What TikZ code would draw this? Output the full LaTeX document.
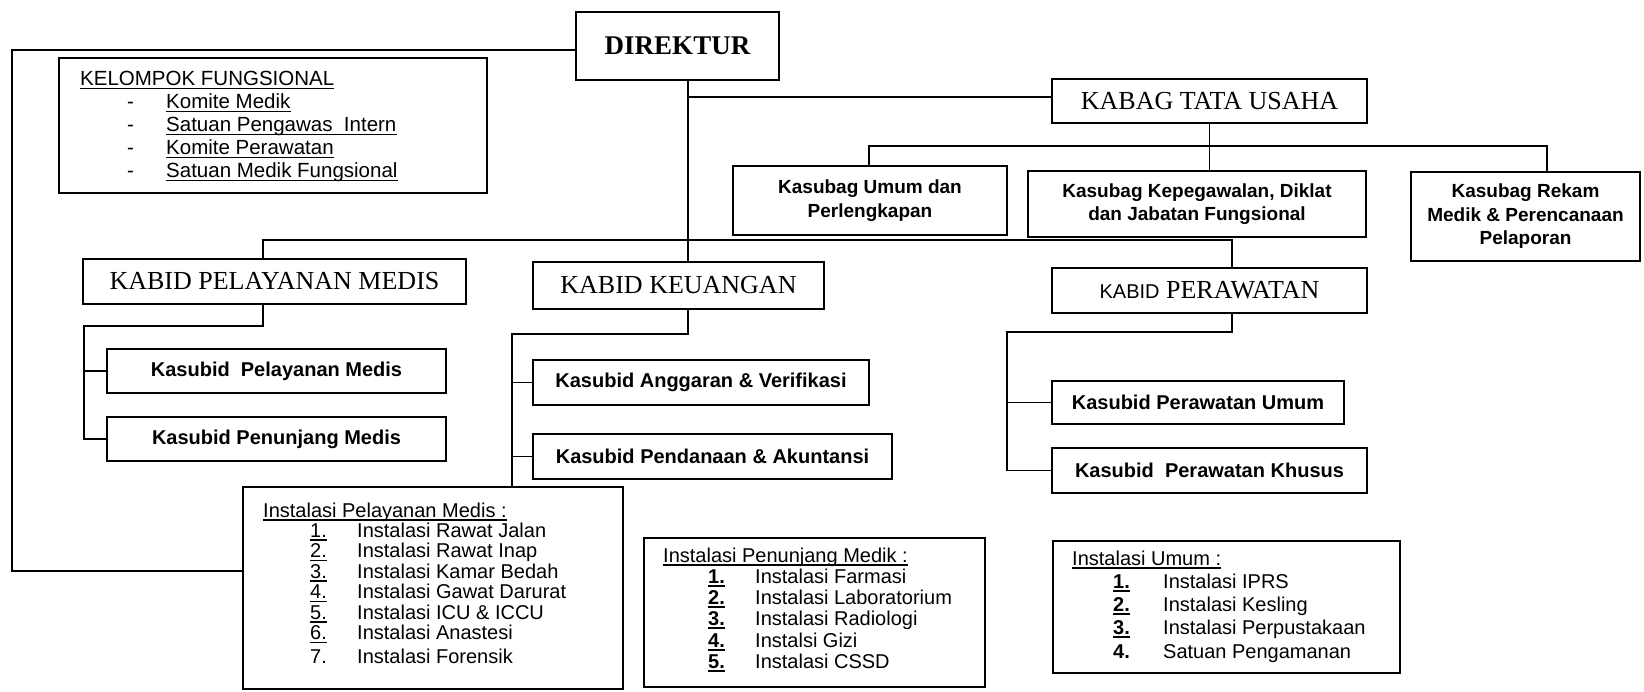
\documentclass[tikz,border=0pt]{standalone}
\usepackage{fontspec}
\setmainfont{Liberation Serif}
\setsansfont{Liberation Sans}
\newcommand\lt[4]{\node[lbl,anchor=base west] (#1) at (#2,#3) {#4};}
\newcommand\ult[4]{\lt{#1}{#2}{#3}{#4}\draw[uline] ([yshift=-3pt]#1.base west) -- ([yshift=-3pt]#1.base east);}
\begin{document}
\begin{tikzpicture}[x=1pt,y=-1pt,
  box/.style={draw, line width=1.6pt, inner sep=0pt, align=center},
  serifbig/.style={font=\fontsize{26}{28}\selectfont},
  sub/.style={font=\sffamily\bfseries\fontsize{20}{24}\selectfont},
  subag/.style={font=\sffamily\bfseries\fontsize{19}{23.5}\selectfont},
  lbl/.style={inner sep=0pt, font=\sffamily\fontsize{20}{24}\selectfont},
  conn/.style={line width=1.4pt},
  uline/.style={line width=1.1pt}]
\useasboundingbox (0,0) rectangle (1644,691);
\fill[white] (0,0) rectangle (1644,691);

% boxes
\node[box, line width=2.4pt, minimum width=203, minimum height=68, font=\bfseries\fontsize{27}{30}\selectfont] (dir) at (677.5,46) {DIREKTUR};
\node[box, minimum width=428, minimum height=135] (kel) at (273,125.5) {};
\node[box, serifbig, minimum width=315, minimum height=44] (kabag) at (1209.5,101) {KABAG TATA USAHA};
\node[box, subag, minimum width=274, minimum height=69] (sumum) at (870,200.5) {Kasubag Umum dan\\Perlengkapan};
\node[box, subag, minimum width=338, minimum height=66] (skep) at (1197,204) {Kasubag Kepegawalan, Diklat\\dan Jabatan Fungsional};
\node[box, subag, minimum width=229, minimum height=89] (srek) at (1525.5,216.5) {Kasubag Rekam\\Medik \& Perencanaan\\Pelaporan};
\node[box, serifbig, minimum width=383, minimum height=45] (pel) at (274.5,281.5) {KABID PELAYANAN MEDIS};
\node[box, serifbig, minimum width=291, minimum height=47] (keu) at (678.5,285.5) {KABID KEUANGAN};
\node[box, serifbig, minimum width=315, minimum height=45] (per) at (1209.5,290.5) {{\sffamily\fontsize{20}{24}\selectfont KABID} PERAWATAN};
\node[box, sub, minimum width=339, minimum height=44] (ksp1) at (276.5,371) {Kasubid~~Pelayanan Medis};
\node[box, sub, minimum width=339, minimum height=44] (ksp2) at (276.5,439) {Kasubid Penunjang Medis};
\node[box, sub, minimum width=336, minimum height=45] (ksk1) at (701,382.5) {Kasubid Anggaran \& Verifikasi};
\node[box, sub, minimum width=359, minimum height=45] (ksk2) at (712.5,456.5) {Kasubid Pendanaan \& Akuntansi};
\node[box, sub, minimum width=292, minimum height=43] (ksr1) at (1198,402.5) {Kasubid Perawatan Umum};
\node[box, sub, minimum width=315, minimum height=45] (ksr2) at (1209.5,470.5) {Kasubid~~Perawatan Khusus};
\node[box, minimum width=380, minimum height=202] (inst1) at (433,588) {};
\node[box, minimum width=341, minimum height=149] (inst2) at (814.5,612.5) {};
\node[box, minimum width=347, minimum height=132] (inst3) at (1226.5,607) {};

% connector coordinates
\coordinate (fTL) at (12,50);
\coordinate (fBL) at (12,571);
\coordinate (dX) at (688,80);
\coordinate (kY) at (688,97);
\coordinate (tuBus) at (869,146);
\coordinate (rkX) at (1547,146);
\coordinate (bL) at (263,240);
\coordinate (bR) at (1232,240);
\coordinate (pT) at (263,326);
\coordinate (pL) at (84,326);
\coordinate (kT) at (688,334);
\coordinate (kL) at (512,334);
\coordinate (rT) at (1232,332);
\coordinate (rL) at (1007,332);

% connectors
\draw[conn] (dir.west |- fTL) -- (fTL) -- (fBL) -- (inst1.west |- fBL);
\draw[conn] (dir.south -| dX) -- (keu.north -| dX);
\draw[conn] (kY) -- (kabag.west |- kY);
\draw[conn] (kabag.south) -- (kabag.south |- skep.north);
\draw[conn] (sumum.north -| tuBus) -- (tuBus) -- (rkX) -- (rkX |- srek.north);
\draw[conn] (pel.north -| bL) -- (bL) -- (bR) -- (bR |- per.north);
\draw[conn] (pel.south -| pT) -- (pT) -- (pL) -- (pL |- ksp2.west) -- (ksp2.west);
\draw[conn] (pL |- ksp1.west) -- (ksp1.west);
\draw[conn] (keu.south -| kT) -- (kT) -- (kL) -- (kL |- inst1.north);
\draw[conn] (kL |- ksk1.west) -- (ksk1.west);
\draw[conn] (kL |- ksk2.west) -- (ksk2.west);
\draw[conn] (per.south -| rT) -- (rT) -- (rL) -- (rL |- ksr2.west) -- (ksr2.west);
\draw[conn] (rL |- ksr1.west) -- (ksr1.west);

% Kelompok fungsional
\begin{scope}[lbl/.append style={font=\sffamily\fontsize{20.5}{24}\selectfont}]
\ult{kt}{80}{85.5}{KELOMPOK FUNGSIONAL}
\lt{kd1}{127}{108.5}{-}
\lt{kd2}{127}{131.5}{-}
\lt{kd3}{127}{154.5}{-}
\lt{kd4}{127}{177.5}{-}
\ult{k1}{166}{108.5}{Komite Medik}
\ult{k2}{166}{131.5}{Satuan Pengawas~~Intern}
\ult{k3}{166}{154.5}{Komite Perawatan}
\ult{k4}{166}{177.5}{Satuan Medik Fungsional}
\end{scope}

% Instalasi Pelayanan Medis
\ult{it1}{263}{517}{Instalasi Pelayanan Medis :}
\ult{in11}{310}{537}{1.}
\ult{in12}{310}{557.5}{2.}
\ult{in13}{310}{578}{3.}
\ult{in14}{310}{598.5}{4.}
\ult{in15}{310}{619}{5.}
\ult{in16}{310}{639.5}{6.}
\lt{in17}{310}{663}{7.}
\lt{ix11}{357}{537}{Instalasi Rawat Jalan}
\lt{ix12}{357}{557.5}{Instalasi Rawat Inap}
\lt{ix13}{357}{578}{Instalasi Kamar Bedah}
\lt{ix14}{357}{598.5}{Instalasi Gawat Darurat}
\lt{ix15}{357}{619}{Instalasi ICU \& ICCU}
\lt{ix16}{357}{639.5}{Instalasi Anastesi}
\lt{ix17}{357}{663}{Instalasi Forensik}

% Instalasi Penunjang Medik
\ult{it2}{663}{562}{Instalasi Penunjang Medik :}
\ult{in21}{708}{583}{\bfseries 1.}
\ult{in22}{708}{604}{\bfseries 2.}
\ult{in23}{708}{625}{\bfseries 3.}
\ult{in24}{708}{647}{\bfseries 4.}
\ult{in25}{708}{668}{\bfseries 5.}
\lt{ix21}{755}{583}{Instalasi Farmasi}
\lt{ix22}{755}{604}{Instalasi Laboratorium}
\lt{ix23}{755}{625}{Instalasi Radiologi}
\lt{ix24}{755}{647}{Instalsi Gizi}
\lt{ix25}{755}{668}{Instalasi CSSD}

% Instalasi Umum
\ult{it3}{1072}{565}{Instalasi Umum :}
\ult{in31}{1113}{588}{\bfseries 1.}
\ult{in32}{1113}{611}{\bfseries 2.}
\ult{in33}{1113}{634}{\bfseries 3.}
\lt{in34}{1113}{658}{\bfseries 4.}
\lt{ix31}{1163}{588}{Instalasi IPRS}
\lt{ix32}{1163}{611}{Instalasi Kesling}
\lt{ix33}{1163}{634}{Instalasi Perpustakaan}
\lt{ix34}{1163}{658}{Satuan Pengamanan}
\end{tikzpicture}
\end{document}
